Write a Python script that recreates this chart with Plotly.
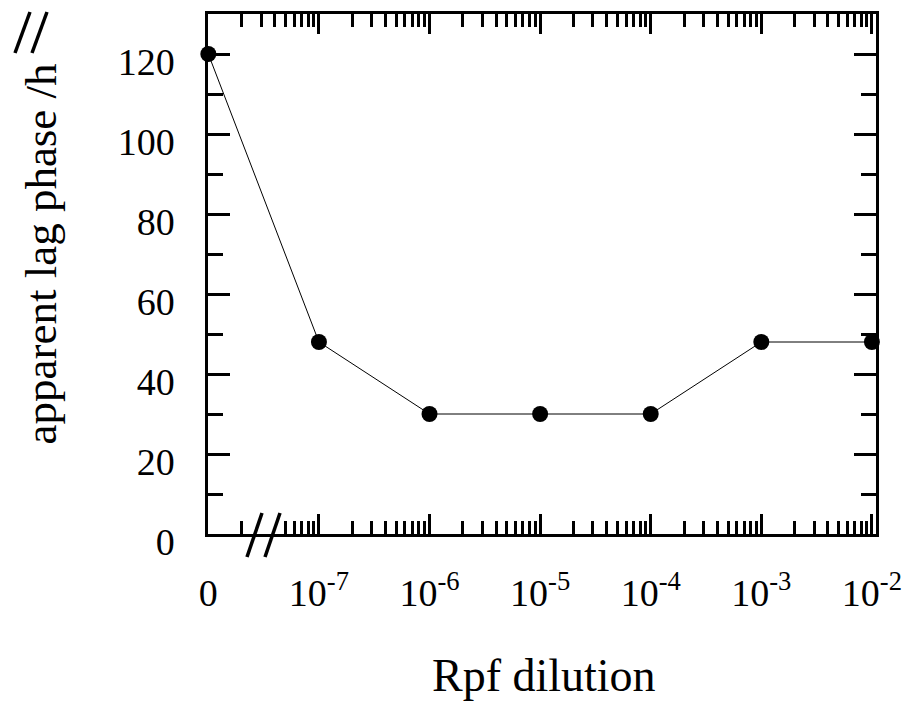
import plotly.graph_objects as go

# Lag phase of the culture versus Rpf dilution
dilution = [0, 1e-7, 1e-6, 1e-5, 1e-4, 1e-3, 1e-2]
dilution_labels = ["0", "10<sup>-7</sup>", "10<sup>-6</sup>", "10<sup>-5</sup>",
                   "10<sup>-4</sup>", "10<sup>-3</sup>", "10<sup>-2</sup>"]
lag_phase_h = [120, 48, 30, 30, 30, 48, 48]

# the zero dilution sits one decade left of 10^-7, beyond the axis break
ZERO_POS = 1e-8
x_pos = [d if d > 0 else ZERO_POS for d in dilution]

FONT = "Liberation Serif"
W, H = 914, 703
ML, MR, MT, MB = 208, 32, 14, 169
PW, PH = W - ML - MR, H - MT - MB

# log-scale minor ticks (2..9 in each decade)
decades = [-8, -7, -6, -5, -4, -3]
minor_top = [m * 10.0 ** e for e in decades for m in range(2, 10)]
# on the bottom axis the break hides the 3 and 4 ticks of the first decade
minor_bottom = [v for v in minor_top if not (v > 2.5e-8 and v < 4.5e-8)]

x_range = [-8.003, -1.963]

fig = go.Figure()
fig.add_trace(go.Scatter(
    x=x_pos, y=lag_phase_h, mode="lines+markers",
    line=dict(color="black", width=1),
    marker=dict(color="black", size=16),
    cliponaxis=False, showlegend=False,
))

axis_common = dict(
    type="log", range=x_range, showgrid=False, zeroline=False,
    showline=True, linecolor="black", linewidth=2.5,
    ticks="inside", tickcolor="black", tickwidth=2.5, ticklen=20,
)

fig.update_layout(
    width=W, height=H,
    margin=dict(l=ML, r=MR, t=MT, b=MB, pad=0),
    paper_bgcolor="white", plot_bgcolor="white",
    font=dict(family=FONT, color="black", size=38),
    xaxis=dict(
        **axis_common,
        tickmode="array", tickvals=x_pos, ticktext=dilution_labels,
        tickfont=dict(family=FONT, size=38, color="black"),
        ticklabelstandoff=24,
        minor=dict(tickmode="array", tickvals=minor_bottom, ticks="inside",
                   ticklen=13, tickwidth=2.5, tickcolor="black", showgrid=False),
    ),
    xaxis2=dict(
        **axis_common,
        overlaying="x", side="top", anchor="y",
        tickmode="array", tickvals=x_pos, showticklabels=False,
        minor=dict(tickmode="array", tickvals=minor_top, ticks="inside",
                   ticklen=13, tickwidth=2.5, tickcolor="black", showgrid=False),
    ),
    yaxis=dict(
        range=[0, 130], showgrid=False, zeroline=False,
        showline=True, linecolor="black", linewidth=2.5, mirror="ticks",
        ticks="inside", tickcolor="black", tickwidth=2.5, ticklen=22,
        tickmode="array", tickvals=[0, 20, 40, 60, 80, 100, 120],
        tickfont=dict(family=FONT, size=38, color="black"),
        ticklabelstandoff=23, ticklabelshift=8,
        minor=dict(dtick=10, ticks="inside", ticklen=15, tickwidth=2.5,
                   tickcolor="black", showgrid=False),
    ),
)

# an invisible trace keeps the top axis active
fig.add_trace(go.Scatter(x=[x_pos[0]], y=[lag_phase_h[0]], xaxis="x2",
                         mode="markers", marker=dict(opacity=0),
                         showlegend=False, hoverinfo="skip"))

# axis titles
fig.add_annotation(text="Rpf dilution", xref="paper", yref="paper",
                   x=(547 - ML) / PW, y=(MT + PH - 675) / PH,
                   xanchor="center", yanchor="middle", showarrow=False,
                   font=dict(family=FONT, size=46, color="black"))
fig.add_annotation(text="apparent lag phase /h", xref="paper", yref="paper",
                   x=(40 - ML) / PW, y=(MT + PH - 254) / PH, textangle=-90,
                   xanchor="center", yanchor="middle", showarrow=False,
                   font=dict(family=FONT, size=45, color="black"))

# break marks "//" on the x axis and above the y axis
def slash(x0, y0, x1, y1):
    fig.add_shape(type="line", xref="paper", yref="paper",
                  xsizemode="pixel", ysizemode="pixel", xanchor=0, yanchor=0,
                  x0=x0, y0=y0, x1=x1, y1=y1,
                  line=dict(color="black", width=3.5))

for dx in (0, 18):
    slash(39 + dx, -23, 54 + dx, 21)
for dx in (0, 17):
    slash(-193 + dx, 481, -178 + dx, 522)

fig.write_html("out.html")
